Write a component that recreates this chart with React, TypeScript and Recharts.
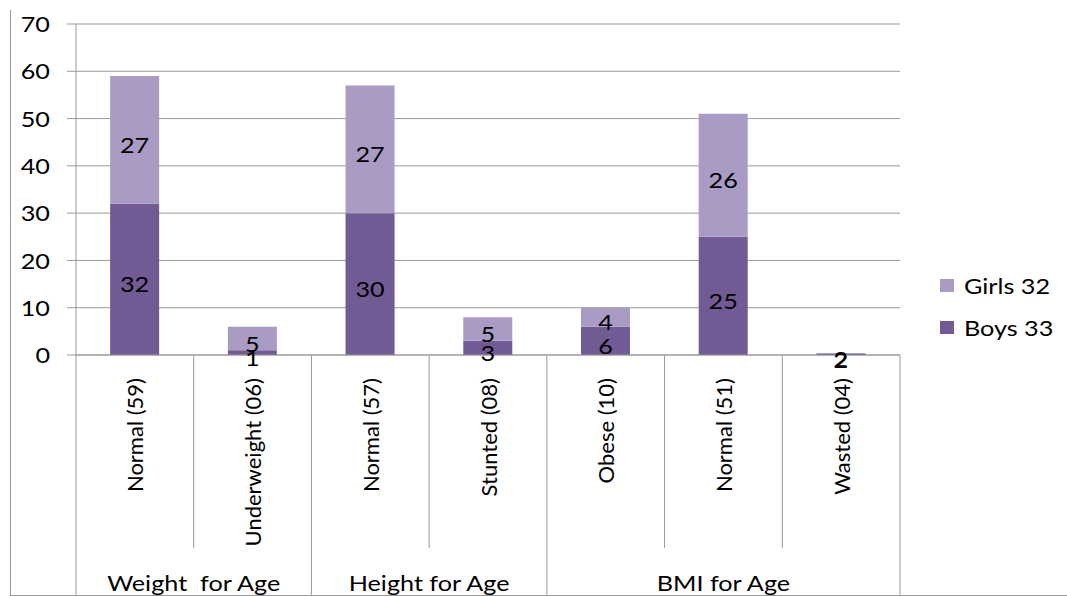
import React from 'react'
import { BarChart, Bar, XAxis, YAxis, CartesianGrid, LabelList } from 'recharts'

const categories = ['Normal (59)', 'Underweight (06)', 'Normal (57)', 'Stunted (08)', 'Obese (10)', 'Normal (51)', 'Wasted (04)']
const groupNames = ['Weight  for Age', 'Height for Age', 'BMI for Age']
const groupSizes = [2, 2, 3]
// bar heights as drawn (wasted bar is barely visible)
const boys = [32, 1, 30, 3, 6, 25, 0.2]
const girls = [27, 5, 27, 5, 4, 26, 0.2]
// numbers written on the bars
const boysLabels = [32, 1, 30, 3, 6, 25, 2]
const girlsLabels = [27, 5, 27, 5, 4, 26, 2]
const yTicks = [0, 10, 20, 30, 40, 50, 60, 70]

const data = categories.map((name, i) => ({
  name,
  boys: boys[i],
  girls: girls[i],
  boysLabel: boysLabels[i],
  girlsLabel: girlsLabels[i],
}))

// index of the first category of each group
const groupStart = groupSizes.map((_, g) => groupSizes.slice(0, g).reduce((a, b) => a + b, 0))

const W = 1067
const H = 596
const LEFT = 76
const RIGHT = 167
const BAND = (W - LEFT - RIGHT) / categories.length
const AXIS_Y = 355
const FONT = 'Lato, "Open Sans", sans-serif'
const FS = 21
const SX = 1.2 // the picture is stretched sideways
const LINE = '#9a9a9a'
const BOYS = '#725a95'
const GIRLS = '#a99bc3'

// horizontal text, widened like the original
const WideText = ({ x, y, anchor, children, preserve }: any) => (
  <text
    x={x}
    y={y}
    transform={`translate(${x},${y}) scale(${SX},1) translate(${-x},${-y})`}
    textAnchor={anchor}
    dominantBaseline="central"
    fontSize={FS}
    fontFamily={FONT}
    fill="#000"
    style={preserve ? { whiteSpace: 'pre' } : undefined}
  >
    {children}
  </text>
)

const CategoryTick = (props: any) => {
  const { x, y, payload, index } = props
  const left = x - BAND / 2
  const g = groupStart.indexOf(index)
  return (
    <g>
      <line x1={left} x2={left} y1={AXIS_Y} y2={g >= 0 ? H : 548} stroke={LINE} />
      {index === categories.length - 1 && (
        <line x1={x + BAND / 2} x2={x + BAND / 2} y1={AXIS_Y} y2={H} stroke={LINE} />
      )}
      <text
        x={x}
        y={y + 15}
        transform={`rotate(-90, ${x}, ${y + 15})`}
        textAnchor="end"
        dominantBaseline="central"
        fontSize={22}
        fontFamily={FONT}
        fill="#000"
      >
        {payload.value}
      </text>
      {g >= 0 && (
        <WideText x={left + (groupSizes[g] * BAND) / 2} y={583} anchor="middle" preserve>
          {groupNames[g]}
        </WideText>
      )}
    </g>
  )
}

const YTick = (props: any) => (
  <WideText x={props.x} y={props.y} anchor="end">
    {props.payload.value}
  </WideText>
)

const BarLabel = (props: any) => {
  const { x, y, width, height, value } = props
  return (
    <WideText x={x + width / 2} y={y + height / 2 + 5} anchor="middle">
      {value}
    </WideText>
  )
}

const legendItems = [
  { label: 'Girls 32', color: GIRLS },
  { label: 'Boys 33', color: BOYS },
]

export default function App() {
  return (
    <div style={{ position: 'absolute', left: 0, top: 0, width: W, height: H, background: '#fff' }}>
      <div style={{ position: 'absolute', left: 10, top: 10, width: W - 10, height: H - 11, borderLeft: `1px solid ${LINE}`, borderBottom: `1px solid ${LINE}` }} />
      <BarChart width={W} height={H} data={data} margin={{ top: 24, right: RIGHT, bottom: 0, left: 0 }} barCategoryGap="29%">
        <CartesianGrid vertical={false} stroke={LINE} />
        <XAxis
          dataKey="name"
          height={H - AXIS_Y}
          axisLine={{ stroke: LINE }}
          tickLine={false}
          interval={0}
          tick={<CategoryTick />}
        />
        <YAxis
          width={LEFT}
          domain={[0, 70]}
          ticks={yTicks}
          axisLine={{ stroke: LINE }}
          tickLine={{ stroke: LINE }}
          tickSize={9}
          tickMargin={17}
          tick={<YTick />}
        />
        <Bar dataKey="boys" stackId="a" fill={BOYS} isAnimationActive={false}>
          <LabelList dataKey="boysLabel" content={<BarLabel />} />
        </Bar>
        <Bar dataKey="girls" stackId="a" fill={GIRLS} isAnimationActive={false}>
          <LabelList dataKey="girlsLabel" content={<BarLabel />} />
        </Bar>
      </BarChart>
      <div style={{ position: 'absolute', left: 940, top: 264, fontFamily: FONT, fontSize: FS, color: '#000' }}>
        {legendItems.map((it) => (
          <div key={it.label} style={{ display: 'flex', alignItems: 'center', height: 42 }}>
            <span style={{ width: 14, height: 13, background: it.color, marginRight: 10, display: 'inline-block' }} />
            <span style={{ display: 'inline-block', transform: `scaleX(${SX})`, transformOrigin: 'left center' }}>{it.label}</span>
          </div>
        ))}
      </div>
    </div>
  )
}
